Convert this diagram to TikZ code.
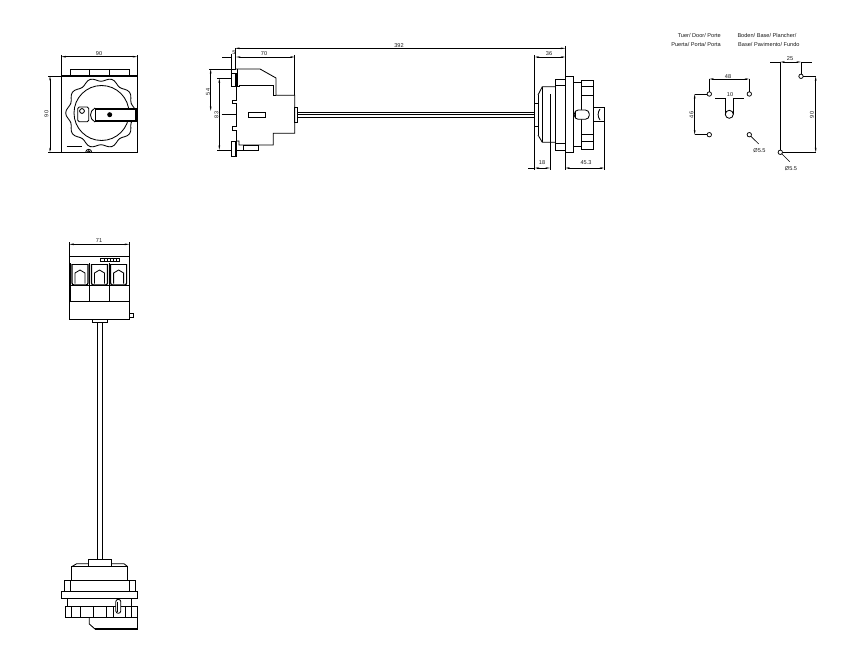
\documentclass[tikz,border=0pt]{standalone}
\usepackage{fontspec}
\setmainfont{Liberation Sans}
\usetikzlibrary{calc}
\usetikzlibrary{arrows.meta,positioning}
\tikzset{
  part/.style={line width=0.85pt},
  heavy/.style={line width=1.2pt},
  dimline/.style={line width=0.65pt,<->,>={Stealth[length=4.5pt,width=1.7pt]}},
  extline/.style={line width=0.6pt},
  lbl/.style={font=\fontsize{5.6}{6.5}\selectfont,inner sep=0pt,text=black!90},
  hole/.style={line width=0.75pt}
}
\begin{document}
\begin{tikzpicture}[x=1pt,y=-1pt]
    \useasboundingbox (0,0) rectangle (848,663);
    % front view
    \draw[part,line width=1.05pt] (61.3,76) rectangle (137.3,152.3);
    \draw[part] (70,76) -- (70,69) -- (129,69) -- (129,76);
    \draw[heavy] (89.5,69) -- (89.5,76);
    \draw[part] (109.3,69) -- (109.3,76);
    \draw[part] plot[smooth cycle,samples=80,domain=0:355.5] ({101+(33.5+1.8*cos(10*\x))*cos(\x)},{113+(33.5+1.8*cos(10*\x))*sin(\x)});
    \draw[part] (101.5,113) circle (27.5);
    \draw[part,fill=white] (95,109) rectangle (136.7,121);
    \draw[heavy,line width=1.5pt] (136.2,109) -- (136.2,121);
    \draw[heavy] (95,109) -- (136.7,109);
    \draw[heavy] (95,121) -- (136.7,121);
    \fill (109.7,114.7) circle (2.5);
    \draw[part] (95,108) .. controls (89,111) and (89,119) .. (95,122);
    \draw[part,rounded corners=1.5pt] (77.7,107) rectangle (88.7,121.7);
    \draw[part] (82,111) circle (2.4);
    \draw[heavy,line width=1.5pt] (66.7,146.5) -- (81.7,146.5);
    \draw[part] (85.7,152.3) arc (180:360:3);
    \draw[part] (87.2,152.3) arc (180:360:1.5);
    \draw[extline] (61.3,76) -- (61.3,55);
    \draw[extline] (137.3,76) -- (137.3,55);
    \draw[dimline] (61.3,56.7) -- (137.3,56.7);
    \node[lbl] (frontwidth) at (99,53.5) {90};
    \draw[extline] (48,76) -- (61.3,76);
    \draw[extline] (48,152.3) -- (61.3,152.3);
    \draw[dimline] (50,76) -- (50,152.3);
    \node[lbl,rotate=90] (frontheight) at (46.5,114) {90};
    % side view, switch
    \draw[extline] (235,48.3) -- (235,70);
    \draw[extline] (231.3,54) -- (231.3,73);
    \draw[extline] (294.7,55) -- (294.7,95.3);
    \draw[dimline] (235,48.3) -- (565.3,48.3);
    \node[lbl] (overall) at (399,45.5) {392};
    \draw[extline] (222,57) -- (231.3,57);
    \draw[dimline] (236,57) -- (294.7,57);
    \node[lbl] (depth) at (264,53.5) {70};
    \node[lbl] (plate) at (234,53) {5};
    \draw[extline] (209,69) -- (236,69);
    \draw[dimline] (210.7,69) -- (210.7,111);
    \node[lbl,rotate=90] (upper) at (208,92) {54};
    \draw[extline] (217,78.3) -- (231.3,78.3);
    \draw[extline] (217,150) -- (231.3,150);
    \draw[dimline] (219.3,78.3) -- (219.3,150);
    \node[lbl,rotate=90] (mount) at (216.5,115) {83};
    \draw[extline] (221.7,114.3) -- (236,114.3);
    \draw[part] (236,69) -- (260,69) -- (276,78) -- (276,95.3) -- (294.7,95.3) -- (294.7,133.3) -- (273.3,133.3) -- (273.3,145) -- (239,145) -- (239,141) -- (236,141);
    \draw[part] (237.3,69) -- (237.3,86.7) -- (239.7,86.7) -- (239.7,85) -- (273.3,85) -- (273.3,95.3) -- (276,95.3);
    \draw[part] (236,86.7) -- (236,100) -- (232,100) -- (232,103) -- (236,103) -- (236,126.7) -- (232,126.7) -- (232,130) -- (236,130) -- (236,141);
    \draw[heavy] (231.3,73.3) rectangle (236,86.7);
    \draw[heavy] (231.3,141.7) rectangle (236,156.7);
    \draw[part] (243.3,145) rectangle (258.7,150);
    \draw[part] (236,150) -- (243.3,150);
    \draw[part] (248.3,112.3) rectangle (265.3,117.3);
    \draw[part] (294.7,107.7) rectangle (297.7,122.3);
    % shaft
    \draw[part] (297.7,112.3) -- (534.7,112.3);
    \draw[extline] (297.7,114.3) -- (534.7,114.3);
    \draw[part] (297.7,117) -- (534.7,117);
    % side view, door part
    \draw[extline] (534.7,55) -- (534.7,170);
    \draw[extline] (565.3,46) -- (565.3,170);
    \draw[extline] (604.3,121.7) -- (604.3,170);
    \draw[extline] (550,94) -- (550,170);
    \draw[dimline] (534.7,57) -- (565.3,57);
    \node[lbl] (collar) at (549,54) {36};
    \draw[part] (538,95) -- (542.3,86.7) -- (555.3,86.7);
    \draw[part] (538,135) -- (542.3,142.3) -- (555.3,142.3);
    \draw[part] (534.7,103) -- (538,103);
    \draw[part] (534.7,126.7) -- (538,126.7);
    \draw[part] (538,95) -- (538,135);
    \draw[part] (542.3,86.7) -- (542.3,142.3);
    \draw[part] (555.3,79) rectangle (565.3,150);
    \draw[part] (555.3,85) -- (565.3,85);
    \draw[part] (555.3,143.3) -- (565.3,143.3);
    \draw[part] (565.3,76.3) rectangle (573.3,152.3);
    \draw[heavy] (565.5,76.3) -- (565.5,152.3);
    \draw[part] (573.3,82.7) rectangle (581,146.7);
    \draw[part] (581,80.7) rectangle (593.3,149);
    \foreach \ypos in {86.7,95.7,134,141.7}
      \draw[part] (581,\ypos) -- (593.3,\ypos);
    \draw[part] (593.3,107.7) -- (604.3,107.7) -- (604.3,121.7) -- (593.3,121.7);
    \draw[part] (600,109) .. controls (597.5,112) and (597.5,117) .. (600,120);
    \draw[part,fill=white,rounded corners=4pt] (574.3,110) rectangle (589.3,119.3);
    \draw[heavy] (575.6,111) -- (575.6,118.4);
    \draw[dimline] (534.7,168) -- (550,168);
    \draw[extline] (528,168) -- (534.7,168);
    \node[lbl] (inset) at (542,163) {18};
    \draw[dimline] (565.3,168) -- (604.3,168);
    \node[lbl] (reach) at (586,163) {45.3};
    % cut-outs
    \node[lbl,anchor=east] (doorone) at (721,36) {Tuer/ Door/ Porte};
    \node[lbl,anchor=east] (doortwo) at (721,45) {Puerta/ Porta/ Porta};
    \node[lbl,anchor=west] (baseone) at (737.3,36) {Boden/ Base/ Plancher/};
    \node[lbl,anchor=west] (basetwo) at (738,45) {Base/ Pavimento/ Fundo};
    \foreach \xpos/\ypos in {709.3/94,749.3/94,709.3/134.7,749.3/134.7,801/76.3,780.3/152.3}
      \draw[hole] (\xpos,\ypos) circle (2.2);
    \draw[extline] (709.3,79) -- (709.3,91.8);
    \draw[extline] (749.3,79) -- (749.3,91.8);
    \draw[dimline] (709.3,79) -- (749.3,79);
    \node[lbl] (doorwidth) at (728,76.5) {48};
    \draw[extline] (694.7,94) -- (707.1,94);
    \draw[extline] (694.7,134.7) -- (707.1,134.7);
    \draw[dimline] (694.7,94) -- (694.7,134.7);
    \node[lbl,rotate=90] (doorheight) at (691.5,115) {46};
    \draw[extline] (715,98) -- (725.3,98);
    \draw[extline] (733.3,98) -- (743.7,98);
    \node[lbl] (slot) at (730,95) {10};
    \draw[part] (725.3,98) -- (725.3,114.3);
    \draw[part] (733.3,98) -- (733.3,114.3);
    \draw[part] (729.3,114.3) circle (4);
    \draw[extline] (750.8,136.2) -- (758.7,144);
    \node[lbl] (doorhole) at (759.5,150.7) {Ø5.5};
    \draw[part] (780.3,62) -- (780.3,150.1);
    \draw[extline] (770,62) -- (780.3,62);
    \draw[extline] (801,62) -- (811.7,62);
    \draw[dimline] (780.3,62) -- (801,62);
    \node[lbl] (baseoff) at (790,59) {25};
    \draw[extline] (801,62) -- (801,74.1);
    \draw[extline] (803.2,76.3) -- (815.7,76.3);
    \draw[extline] (782.5,152.3) -- (815.7,152.3);
    \draw[dimline] (815.7,76.3) -- (815.7,152.3);
    \node[lbl,rotate=90] (baseheight) at (812,115) {90};
    \draw[extline] (781.8,153.8) -- (789.7,161.7);
    \node[lbl] (basehole) at (791,169) {Ø5.5};
    % top view
    \draw[extline] (69.3,242) -- (69.3,256.7);
    \draw[extline] (129.3,242) -- (129.3,256.7);
    \draw[dimline] (69.3,244.3) -- (129.3,244.3);
    \node[lbl] (topwidth) at (99,241) {71};
    \draw[part,line width=1pt] (69.3,256.7) rectangle (129.3,319.3);
    \draw[part,line width=1pt] (69.3,301) -- (129.3,301);
    \draw[part] (69.3,285.7) -- (129.3,285.7);
    \draw[part] (100.7,258) rectangle (119.3,261);
    \foreach \xpos in {104,107,110,113,116}
      \draw[extline] (\xpos,258) -- (\xpos,261);
    \foreach \xpos in {80,99.5,118.6} {
      \draw[heavy,rounded corners=2pt] (\xpos-8,264) -- (\xpos-8,285) -- (\xpos+8,285) -- (\xpos+8,264);
      \draw[part] (\xpos-8,264) -- (\xpos+8,264);
      \draw[part] (\xpos-5,283.5) -- (\xpos-5,273) -- (\xpos,270) -- (\xpos+5,273) -- (\xpos+5,283.5);
    }
    \draw[heavy] (70.5,263) -- (70.5,301);
    \draw[heavy] (89.8,263) -- (89.8,301);
    \draw[heavy] (109.5,263) -- (109.5,285.7);
    \draw[part] (109.5,285.7) -- (109.5,301);
    \draw[part] (129.3,313.3) rectangle (133.3,317.3);
    \draw[part] (92.3,319.3) rectangle (107.7,322.7);
    \draw[part] (97.3,322.7) -- (97.3,559);
    \draw[part] (102.5,322.7) -- (102.5,559);
    % top view, door part
    \draw[part] (88.3,566.7) -- (88.3,559) -- (111.7,559) -- (111.7,566.7);
    \draw[part] (71.7,566.7) -- (76.7,563.7) -- (88.3,563.7);
    \draw[part] (111.7,563.7) -- (124,563.7) -- (127.7,566.7);
    \draw[part] (71.7,566.7) rectangle (127.7,580);
    \draw[part] (88.3,566.7) -- (111.7,566.7);
    \draw[part] (64.3,580) rectangle (135.7,591);
    \draw[part] (70.7,580) -- (70.7,591);
    \draw[part] (129.3,580) -- (129.3,591);
    \draw[part,line width=1pt] (61,591) rectangle (137.7,598.7);
    \draw[part] (67.7,598.7) -- (67.7,606);
    \draw[part] (131.7,598.7) -- (131.7,606);
    \draw[part] (65.7,606) rectangle (137.3,617.3);
    \foreach \xpos in {71.7,80,93.3,106.7,113.3,125,131.7}
      \draw[part] (\xpos,606) -- (\xpos,617.3);
    \draw[part] (89.3,617.3) -- (89.3,624) -- (95,629);
    \draw[heavy,line width=1.4pt] (95,629) -- (137.3,629) -- (137.3,606);
    \draw[part,fill=white,rounded corners=2.4pt] (115.8,599.3) rectangle (120.8,613.3);
    \draw[heavy,line width=1.6pt] (117.6,602) -- (117.6,612);
\end{tikzpicture}
\end{document}
